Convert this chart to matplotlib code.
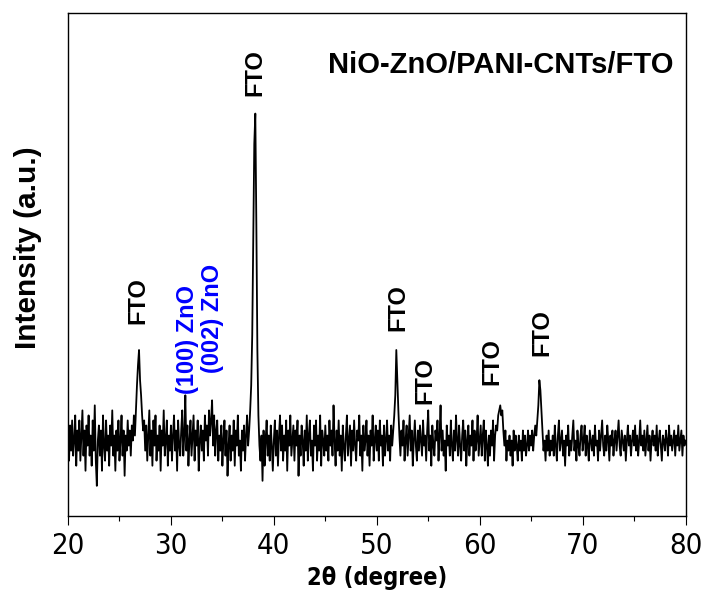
import numpy as np
import matplotlib
matplotlib.use("Agg")
import matplotlib.pyplot as plt
from matplotlib.ticker import MultipleLocator

# XRD intensity, 0.1 degree steps, one list per 10 degrees
seg_20 = [16, 11, 18, 13, 19, 12, 15, 20, 10, 17,
          13, 19, 11, 16, 21, 12, 17, 9, 18, 14,
          20, 12, 16, 10, 19, 13, 22, 11, 6, 15,
          18, 12, 17, 9, 20, 14, 11, 19, 13, 16,
          10, 18, 14, 21, 12, 16, 9, 17, 13, 19,
          11, 15, 20, 12, 17, 8, 16, 13, 19, 14,
          17, 12, 18, 15, 20, 16, 21, 26, 30, 33,
          27, 24, 20, 17, 19, 13, 18, 11, 16, 21,
          12, 17, 10, 19, 14, 20, 11, 16, 13, 18,
          9, 17, 14, 21, 12, 15, 19, 10, 16, 13]
seg_30 = [18, 11, 16, 20, 13, 17, 9, 19, 14, 12,
          17, 21, 12, 16, 24, 13, 18, 10, 15, 19,
          12, 16, 20, 11, 17, 14, 19, 9, 15, 18,
          13, 17, 11, 20, 15, 18, 12, 21, 16, 19,
          23, 14, 20, 12, 17, 19, 11, 16, 13, 18,
          10, 15, 19, 12, 17, 8, 14, 18, 11, 16,
          13, 19, 10, 17, 14, 20, 12, 15, 9, 17,
          13, 18, 11, 16, 20, 14, 17, 21, 26, 36,
          56, 74, 80, 58, 33, 20, 14, 11, 16, 7,
          17, 10, 15, 19, 12, 16, 11, 18, 14, 9]
seg_40 = [15, 19, 12, 17, 10, 16, 20, 13, 18, 11,
          16, 13, 19, 9, 17, 14, 20, 12, 15, 18,
          11, 17, 14, 19, 8, 16, 12, 18, 15, 10,
          17, 13, 20, 11, 16, 19, 12, 15, 9, 18,
          14, 19, 11, 16, 13, 20, 10, 17, 15, 12,
          18, 13, 16, 11, 19, 14, 17, 12, 22, 15,
          10, 17, 13, 19, 12, 16, 9, 18, 14, 11,
          16, 20, 12, 15, 18, 10, 17, 13, 19, 14,
          11, 17, 15, 20, 12, 16, 9, 18, 13, 15,
          19, 12, 16, 10, 17, 14, 20, 11, 15, 18]
seg_50 = [13, 17, 11, 19, 14, 16, 10, 18, 12, 15,
          19, 13, 16, 11, 18, 14, 17, 20, 24, 33,
          27, 21, 16, 12, 17, 14, 19, 11, 15, 18,
          12, 16, 20, 13, 17, 10, 15, 19, 14, 11,
          17, 13, 18, 15, 12, 19, 14, 16, 11, 17,
          21, 13, 16, 10, 18, 14, 12, 17, 15, 19,
          11, 16, 22, 13, 17, 12, 15, 9, 18, 14,
          16, 12, 19, 14, 11, 17, 13, 20, 15, 12,
          18, 14, 11, 16, 19, 13, 17, 10, 15, 18,
          12, 16, 14, 19, 11, 17, 13, 15, 20, 12]
seg_60 = [15, 18, 12, 16, 19, 11, 17, 14, 10, 16,
          12, 17, 14, 19, 11, 16, 18, 17, 20, 21,
          22, 20, 21, 17, 14, 17, 11, 15, 13, 16,
          12, 15, 10, 17, 13, 16, 14, 11, 16, 13,
          15, 11, 17, 13, 16, 12, 14, 17, 13, 16,
          14, 17, 13, 16, 18, 16, 19, 22, 27, 25,
          21, 17, 13, 15, 11, 16, 13, 17, 12, 15,
          13, 16, 12, 18, 14, 11, 16, 19, 13, 15,
          17, 12, 15, 10, 16, 14, 18, 12, 15, 13,
          16, 19, 13, 15, 11, 17, 14, 12, 16, 18]
seg_70 = [13, 15, 18, 12, 16, 14, 11, 17, 15, 13,
          16, 12, 18, 14, 15, 11, 17, 13, 16, 19,
          14, 12, 16, 13, 18, 15, 11, 16, 14, 17,
          12, 15, 17, 13, 16, 19, 14, 12, 17, 15,
          13, 16, 11, 15, 18, 14, 16, 12, 15, 17,
          14, 18, 13, 16, 12, 15, 19, 14, 16, 13,
          17, 12, 15, 18, 13, 16, 11, 15, 17, 14,
          16, 13, 18, 12, 15, 17, 14, 11, 16, 15,
          13, 17, 15, 12, 18, 14, 16, 13, 15, 17,
          12, 16, 14, 18, 13, 15, 17, 12, 16, 14,
          15]

intensity = seg_20 + seg_30 + seg_40 + seg_50 + seg_60 + seg_70
two_theta = np.round(np.linspace(20, 80, len(intensity)), 1)

# peak labels: (text, 2theta, height, colour)
peak_labels = [("FTO", 26.8, 42.9, "black"),
               ("(100) ZnO", 31.6, 35.0, "blue"),
               ("(002) ZnO", 34.0, 39.2, "blue"),
               ("FTO", 38.2, 88.1, "black"),
               ("FTO", 52.1, 41.4, "black"),
               ("FTO", 54.7, 27.0, "black"),
               ("FTO", 61.2, 30.8, "black"),
               ("FTO", 66.0, 36.4, "black")]
sample_name = "NiO-ZnO/PANI-CNTs/FTO"

bold = ["Liberation Sans", "DejaVu Sans"]

fig = plt.figure(figsize=(7.07, 5.98), dpi=100)
ax = fig.add_axes([0.0962, 0.1371, 0.8734, 0.8412])

ax.plot(two_theta, intensity, color="black", lw=1.3)

for txt, x, y, c in peak_labels:
    ax.text(x, y, txt, rotation=90, ha="center", va="center", color=c,
            fontsize=17, fontweight="bold", family=bold)
ax.text(62.0, 89.7, sample_name, ha="center", va="center",
        fontsize=21, fontweight="bold", family=bold)

ax.set_xlim(20, 80)
ax.set_ylim(0, 100)
ax.set_yticks([])
ax.xaxis.set_major_locator(MultipleLocator(10))
ax.xaxis.set_minor_locator(MultipleLocator(5))
ax.tick_params(axis="x", which="major", direction="out", length=6.5, width=0.8, pad=5)
ax.tick_params(axis="x", which="minor", direction="out", length=3.6, width=0.8)
for lbl in ax.get_xticklabels():
    lbl.set_family("DejaVu Sans")
    lbl.set_fontstretch("condensed")
    lbl.set_fontsize(21)
for sp in ax.spines.values():
    sp.set_linewidth(1.0)

ax.set_xlabel("2θ (degree)", fontsize=17, fontweight="bold", family="DejaVu Sans",
              fontstretch="condensed", labelpad=4)
ax.set_ylabel("Intensity (a.u.)", fontsize=21.5, fontweight="bold", family=bold)
ax.yaxis.set_label_coords(-0.042, 0.533)

fig.savefig("out.png", dpi=100)
